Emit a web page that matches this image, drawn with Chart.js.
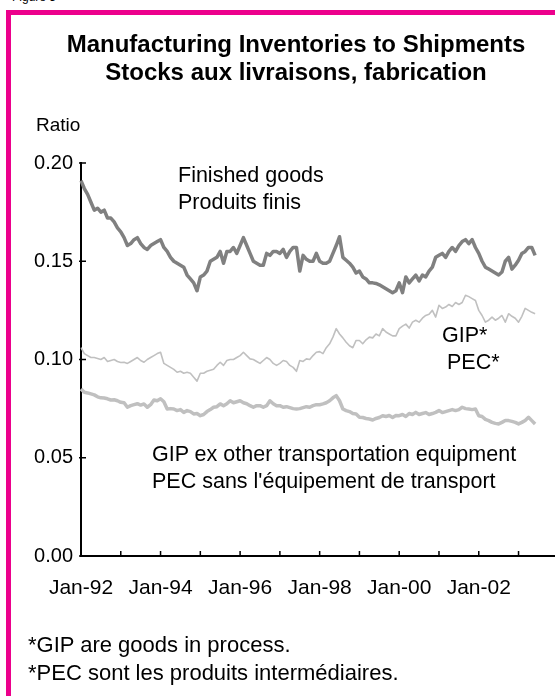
<!DOCTYPE html>
<html>
<head>
<meta charset="utf-8">
<script src="https://cdn.jsdelivr.net/npm/chart.js@4.4.1/dist/chart.umd.min.js"></script>
<style>
  body { margin: 0; width: 555px; height: 696px; overflow: hidden; background: #fff; font-family: "Liberation Sans", Arial, sans-serif; color: #000; position: relative; }
  .abs { position: absolute; white-space: nowrap; }
  #frame { position: absolute; left: 6px; top: 10px; width: 700px; height: 800px; border-left: 5px solid #ec008c; border-top: 5px solid #ec008c; }
  #title { left: 11px; width: 570px; top: 30px; text-align: center; font-weight: bold; font-size: 24px; line-height: 28px; }
  .note { font-size: 21.5px; line-height: 27px; }
  #wrap { position: absolute; left: 0; top: 0; width: 555px; height: 696px; }
</style>
</head>
<body>
<div class="abs" style="left:12px;top:-10px;font-size:12px;">Figure 5</div>
<div id="frame"></div>
<div id="wrap"><canvas id="myChart"></canvas></div>
<div class="abs" id="title">Manufacturing Inventories to Shipments<br>Stocks aux livraisons, fabrication</div>
<div class="abs note" style="left:36px;top:111px;font-size:19px;">Ratio</div>
<div class="abs note" style="left:178px;top:162px;">Finished goods<br>Produits finis</div>
<div class="abs note" style="left:442px;top:322px;">GIP*</div>
<div class="abs note" style="left:447px;top:349px;">PEC*</div>
<div class="abs note" style="left:152px;top:441px;">GIP ex other transportation equipment<br>PEC sans l'&eacute;quipement de transport</div>
<div class="abs note" style="left:28px;top:631px;line-height:28px;font-size:22px;">*GIP are goods in process.<br>*PEC sont les produits interm&eacute;diaires.</div>
<script>
// monthly ratios, Jan 1992 - Jun 2003
var finishedGoods = [
  0.191, 0.187, 0.184, 0.180, 0.176, 0.177, 0.175, 0.176, 0.172, 0.172, 0.170, 0.167,
  0.165, 0.162, 0.158, 0.159, 0.161, 0.162, 0.159, 0.157, 0.156, 0.158, 0.159, 0.160,
  0.161, 0.157, 0.155, 0.152, 0.150, 0.149, 0.148, 0.147, 0.143, 0.141, 0.139, 0.135,
  0.142, 0.143, 0.145, 0.150, 0.151, 0.152, 0.155, 0.149, 0.155, 0.155, 0.157, 0.154,
  0.158, 0.162, 0.158, 0.154, 0.150, 0.149, 0.148, 0.148, 0.154, 0.153, 0.155, 0.155,
  0.154, 0.156, 0.152, 0.155, 0.157, 0.157, 0.145, 0.153, 0.151, 0.150, 0.150, 0.154,
  0.150, 0.149, 0.149, 0.150, 0.154, 0.158, 0.1625, 0.152, 0.1505, 0.149, 0.147, 0.144,
  0.145, 0.142, 0.141, 0.139, 0.139, 0.1387, 0.138, 0.137, 0.136, 0.135, 0.134, 0.135,
  0.139, 0.134, 0.142, 0.139, 0.141, 0.143, 0.140, 0.143, 0.142, 0.145, 0.147, 0.152,
  0.153, 0.154, 0.152, 0.155, 0.157, 0.155, 0.158, 0.160, 0.161, 0.159, 0.161, 0.157,
  0.154, 0.150, 0.147, 0.146, 0.145, 0.144, 0.143, 0.1445, 0.150, 0.152, 0.146, 0.148,
  0.1505, 0.154, 0.155, 0.157, 0.157, 0.153
];
var goodsInProcess = [
  0.106, 0.103, 0.102, 0.101, 0.101, 0.1005, 0.100, 0.101, 0.099, 0.0995, 0.100, 0.099,
  0.0985, 0.0986, 0.098, 0.099, 0.100, 0.101, 0.0995, 0.0986, 0.100, 0.101, 0.102, 0.103,
  0.1037, 0.098, 0.097, 0.096, 0.095, 0.0935, 0.094, 0.093, 0.0935, 0.093, 0.091, 0.089,
  0.093, 0.093, 0.094, 0.0945, 0.095, 0.097, 0.0986, 0.097, 0.0995, 0.100, 0.100, 0.101,
  0.102, 0.1037, 0.102, 0.1003, 0.100, 0.099, 0.098, 0.0995, 0.101, 0.100, 0.098, 0.097,
  0.098, 0.0995, 0.099, 0.097, 0.096, 0.094, 0.0995, 0.099, 0.1003, 0.100, 0.102, 0.1037,
  0.104, 0.103, 0.106, 0.108, 0.1114, 0.1157, 0.113, 0.111, 0.1088, 0.107, 0.106, 0.1097,
  0.1097, 0.108, 0.110, 0.1114, 0.111, 0.113, 0.112, 0.1157, 0.114, 0.113, 0.112, 0.112,
  0.1157, 0.117, 0.118, 0.116, 0.119, 0.120, 0.119, 0.121, 0.1224, 0.123, 0.125, 0.1216,
  0.1276, 0.126, 0.1267, 0.128, 0.127, 0.129, 0.128, 0.129, 0.1327, 0.132, 0.131, 0.130,
  0.125, 0.1224, 0.119, 0.120, 0.1216, 0.120, 0.121, 0.1224, 0.119, 0.1233, 0.122, 0.121,
  0.119, 0.122, 0.126, 0.125, 0.124, 0.1233
];
var gipExTransport = [
  0.085, 0.0833, 0.083, 0.0825, 0.082, 0.081, 0.0805, 0.0804, 0.080, 0.0794, 0.0795, 0.079,
  0.0782, 0.078, 0.0757, 0.0765, 0.077, 0.0775, 0.0768, 0.0774, 0.0757, 0.077, 0.0794, 0.079,
  0.080, 0.0785, 0.0748, 0.075, 0.0748, 0.074, 0.0745, 0.0731, 0.074, 0.0735, 0.0723, 0.0725,
  0.0714, 0.072, 0.0735, 0.0745, 0.0757, 0.076, 0.0774, 0.0765, 0.0775, 0.079, 0.078, 0.0785,
  0.079, 0.078, 0.0775, 0.0765, 0.0757, 0.0765, 0.0765, 0.0757, 0.0765, 0.079, 0.0775, 0.0765,
  0.0765, 0.0757, 0.076, 0.0755, 0.075, 0.0748, 0.075, 0.0755, 0.076, 0.0757, 0.0765, 0.077,
  0.077, 0.0774, 0.078, 0.079, 0.0805, 0.0816, 0.079, 0.0748, 0.074, 0.0735, 0.0725, 0.0723,
  0.0706, 0.0705, 0.070, 0.0697, 0.0692, 0.070, 0.0705, 0.0714, 0.071, 0.0715, 0.0705, 0.0715,
  0.0714, 0.072, 0.071, 0.0725, 0.072, 0.0731, 0.072, 0.0725, 0.073, 0.072, 0.0725, 0.0731,
  0.074, 0.073, 0.0735, 0.074, 0.0745, 0.074, 0.0745, 0.0757, 0.075, 0.0748, 0.0745, 0.0748,
  0.0714, 0.071, 0.0695, 0.0689, 0.068, 0.0675, 0.0672, 0.068, 0.069, 0.0689, 0.0685, 0.068,
  0.0672, 0.068, 0.069, 0.0706, 0.0689, 0.0672
];
var years = ["92","93","94","95","96","97","98","99","00","01","02","03"];
var monthNames = ["Jan","Feb","Mar","Apr","May","Jun","Jul","Aug","Sep","Oct","Nov","Dec"];
var tickLabels = ["Jan-92","Jan-94","Jan-96","Jan-98","Jan-00","Jan-02"];
var yTicks = [0, 0.05, 0.10, 0.15, 0.20];

var months = [];
for (var y = 0; y < years.length; y++) {
  for (var m = 0; m < 12; m++) months.push(monthNames[m] + "-" + years[y]);
}

// small tick marks pointing into the plot, like the original
var innerTicks = {
  id: "innerTicks",
  afterDraw: function (chart) {
    var ctx = chart.ctx;
    var xs = chart.scales.x, ys = chart.scales.y;
    ctx.save();
    ctx.strokeStyle = "#000";
    ctx.lineWidth = 1.5;
    ctx.beginPath();
    for (var i = 0; i < months.length; i += 12) {
      var px = xs.getPixelForValue(i);
      ctx.moveTo(px, ys.bottom);
      ctx.lineTo(px, ys.bottom - 5);
    }
    for (var j = 0; j < yTicks.length; j++) {
      var py = ys.getPixelForValue(yTicks[j]);
      ctx.moveTo(xs.left - 2, py);
      ctx.lineTo(xs.left + 5, py);
    }
    ctx.stroke();
    ctx.restore();
  }
};

function createChart() {
  var ctx = document.getElementById("myChart").getContext("2d");
  new Chart(ctx, {
    type: "line",
    data: {
      labels: months,
      datasets: [
        { data: finishedGoods, borderColor: "#808080", borderWidth: 3.5 },
        { data: goodsInProcess, borderColor: "#c0c0c0", borderWidth: 1.6 },
        { data: gipExTransport, borderColor: "#c0c0c0", borderWidth: 3.5 }
      ]
    },
    options: {
      responsive: true,
      maintainAspectRatio: false,
      animation: false,
      elements: { point: { radius: 0 }, line: { tension: 0, borderJoinStyle: "round" } },
      layout: { padding: { left: 0, top: 163, right: 0, bottom: 100 } },
      plugins: { legend: { display: false }, tooltip: { enabled: false } },
      scales: {
        x: {
          type: "category",
          offset: false,
          grid: { display: false, drawTicks: false },
          border: { display: true, color: "#000", width: 2 },
          afterFit: function (s) { s.height = 40; s.paddingLeft = 0; s.paddingRight = 0; },
          ticks: {
            autoSkip: false, maxRotation: 0, minRotation: 0, padding: 20,
            color: "#000", font: { family: "Liberation Sans", size: 21 },
            callback: function (v, i) { return i % 24 === 0 ? tickLabels[i / 24] : ""; }
          }
        },
        y: {
          min: 0, max: 0.2,
          grid: { display: false, drawTicks: false },
          border: { display: true, color: "#000", width: 2 },
          afterFit: function (s) { s.width = 81; },
          ticks: {
            stepSize: 0.05, padding: 8,
            color: "#000", font: { family: "Liberation Sans", size: 20 },
            callback: function (v) { return v.toFixed(2); }
          }
        }
      }
    },
    plugins: [innerTicks]
  });
}

createChart();
</script>
</body>
</html>
